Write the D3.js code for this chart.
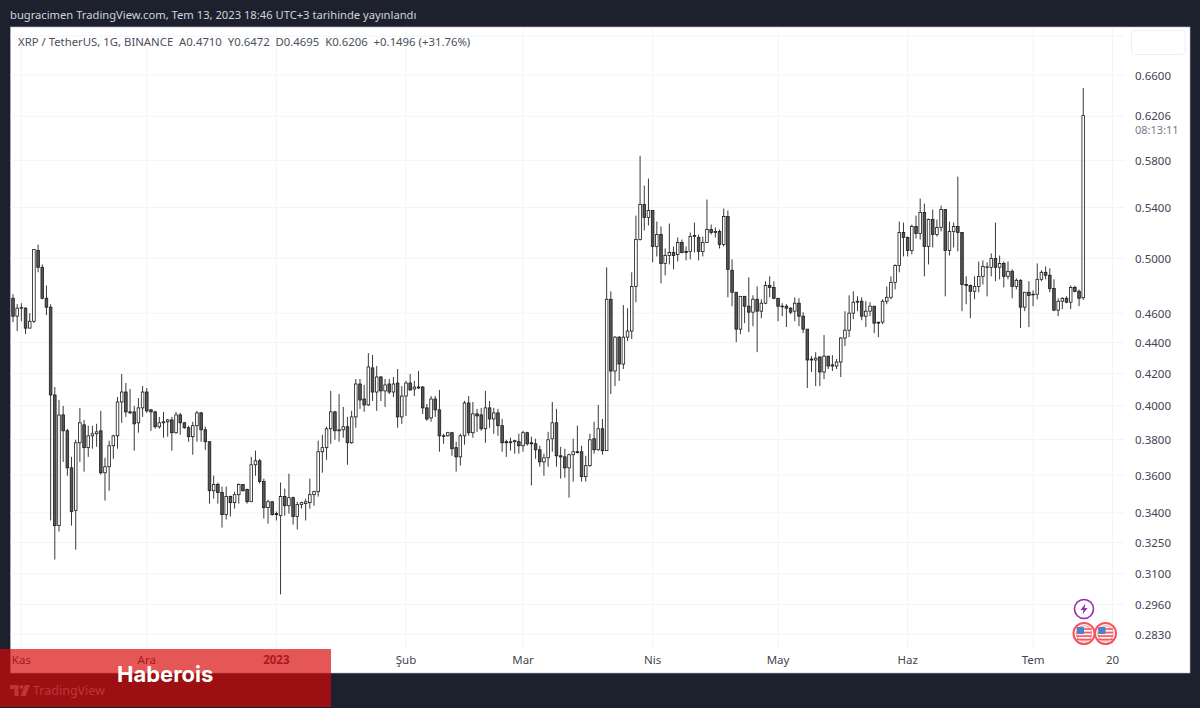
<!DOCTYPE html>
<html>
<head>
<meta charset="utf-8">
<script src="https://d3js.org/d3.v7.min.js"></script>
<style>
    html, body {margin: 0; padding: 0; background: #1d202d;}
    svg {display: block;}
    text {font-family: "Noto Sans", sans-serif; white-space: pre;}
</style>
</head>
<body>
<div id="chart"></div>
<script>
// XRP/USDT daily candles, first candle is 30 Oct 2022
const firstDay = "2022-10-30";
const opens = [
.4706,.4580,.4636,.4636,.4498,.4545,.5059,.4932,.4706,.4643,
.4065,.3335,.3944,.3850,.3640,.3412,.3781,.3885,.3753,.3821,
.3833,.3850,.3613,.3646,.3764,.3821,.4022,.4083,.3962,.3962,
.3897,.3986,.4083,.3974,.3962,.3874,.3897,.3903,.3914,.3839,
.3944,.3897,.3868,.3816,.3880,.3956,.3856,.3787,.3516,.3549,
.3506,.3391,.3485,.3453,.3495,.3549,.3522,.3458,.3657,.3679,
.3565,.3427,.3458,.3396,.3386,.3485,.3437,.3479,.3381,.3443,
.3448,.3453,.3495,.3511,.3730,.3753,.3862,.3962,.3850,.3856,
.3874,.3781,.3932,.4133,.4040,.4004,.4235,.4083,.4177,.4090,
.4133,.4083,.4139,.3932,.4058,.4139,.4102,.4114,.4114,.3986,
.3926,.4040,.3974,.3821,.3821,.3839,.3753,.3701,.3821,.4016,
.3839,.3950,.3944,.3862,.3986,.3920,.3956,.3880,.3787,.3781,
.3787,.3787,.3764,.3839,.3781,.3775,.3741,.3673,.3696,.3804,
.3897,.3707,.3701,.3640,.3713,.3730,.3730,.3592,.3652,.3804,
.3741,.3862,.3736,.4699,.4215,.4437,.4260,.4437,.4478,.4791,
.5144,.5424,.5318,.5375,.5090,.5183,.4961,.5021,.5044,.5029,
.5121,.5052,.5052,.5167,.5160,.5052,.5121,.5223,.5199,.5207,
.5106,.5326,.4910,.4749,.4491,.4720,.4650,.4608,.4699,.4615,
.4671,.4798,.4784,.4706,.4650,.4650,.4636,.4615,.4671,.4580,
.4491,.4292,.4286,.4305,.4209,.4311,.4254,.4247,.4273,.4431,
.4484,.4601,.4678,.4685,.4580,.4615,.4650,.4539,.4539,.4685,
.4713,.4821,.4946,.5199,.5160,.5059,.5247,.5191,.5359,.5090,
.5302,.5183,.5239,.5383,.5059,.5207,.5247,.5199,.4806,.4798,
.4756,.4791,.4865,.4932,.4932,.4999,.4932,.4961,.4865,.4902,
.4791,.4836,.4643,.4749,.4735,.4735,.4843,.4895,.4873,.4777,
.4622,.4685,.4706,.4678,.4784,.4756,.4710];
const highs = [
.4735,.4664,.4671,.4643,.4601,.5067,.5105,.4954,.4798,.4664,
.4114,.4034,.3998,.3862,.3701,.3798,.3986,.3914,.3880,.3880,
.3891,.3968,.3696,.3793,.3827,.4052,.4196,.4139,.4102,.3998,
.4046,.4120,.4108,.3980,.3968,.3932,.3962,.3920,.3932,.3962,
.3956,.3903,.3880,.3903,.3968,.3962,.3874,.3787,.3597,.3560,
.3538,.3538,.3490,.3511,.3554,.3549,.3527,.3701,.3736,.3690,
.3581,.3469,.3458,.3407,.3560,.3527,.3608,.3485,.3458,.3458,
.3474,.3581,.3516,.3793,.3827,.3874,.4090,.3968,.4071,.3992,
.3932,.3968,.4164,.4164,.4127,.4331,.4318,.4247,.4183,.4164,
.4164,.4177,.4228,.4120,.4152,.4196,.4152,.4215,.4120,.4010,
.4058,.4058,.4096,.3833,.3844,.3844,.3787,.3833,.4028,.4058,
.4022,.3980,.3986,.4090,.4028,.3986,.3980,.3920,.3798,.3810,
.3798,.3833,.3850,.3844,.3816,.3804,.3764,.3719,.3844,.4022,
.3980,.3758,.3747,.3719,.3804,.3880,.3764,.3707,.3833,.3903,
.4004,.3920,.4932,.4756,.4444,.4444,.4657,.4636,.4895,.5334,
.5840,.5582,.5641,.5375,.5286,.5247,.5075,.5270,.5090,.5160,
.5144,.5090,.5199,.5278,.5183,.5167,.5465,.5262,.5239,.5223,
.5391,.5375,.4991,.4749,.4720,.4720,.4858,.4727,.4791,.4699,
.4829,.4865,.4829,.4706,.4671,.4664,.4643,.4713,.4706,.4608,
.4491,.4311,.4337,.4311,.4451,.4311,.4318,.4292,.4437,.4615,
.4727,.4756,.4720,.4713,.4685,.4678,.4650,.4539,.4699,.4791,
.4865,.4954,.5286,.5278,.5167,.5262,.5334,.5473,.5432,.5310,
.5383,.5302,.5416,.5383,.5286,.5278,.5658,.5199,.4865,.4806,
.4865,.4976,.4984,.4969,.5037,.5278,.5021,.4976,.4976,.4917,
.4850,.4843,.4749,.4829,.4763,.4961,.4910,.4939,.4924,.4843,
.4706,.4713,.4720,.4798,.4798,.4770,.6472];
const lows = [
.4539,.4478,.4545,.4458,.4498,.4532,.4895,.4699,.4587,.3361,
.3168,.3305,.3673,.3597,.3335,.3216,.3673,.3619,.3701,.3747,
.3758,.3603,.3464,.3516,.3690,.3747,.3897,.3932,.3950,.3736,
.3839,.3932,.3956,.3850,.3862,.3862,.3810,.3816,.3736,.3833,
.3827,.3862,.3787,.3713,.3787,.3787,.3741,.3448,.3474,.3448,
.3325,.3366,.3381,.3422,.3448,.3511,.3448,.3458,.3597,.3554,
.3371,.3345,.3386,.3361,.3005,.3386,.3396,.3340,.3315,.3422,
.3361,.3422,.3437,.3485,.3613,.3685,.3775,.3798,.3787,.3810,
.3657,.3775,.3868,.3980,.3962,.3998,.4028,.3968,.4028,.3992,
.4071,.4052,.3868,.3891,.3938,.4090,.4058,.4102,.3950,.3908,
.3903,.3932,.3730,.3775,.3816,.3707,.3619,.3652,.3770,.3821,
.3810,.3844,.3850,.3781,.3868,.3833,.3821,.3730,.3701,.3736,
.3719,.3719,.3730,.3764,.3544,.3690,.3646,.3597,.3646,.3730,
.3646,.3581,.3586,.3479,.3565,.3719,.3565,.3565,.3646,.3719,
.3736,.3713,.3736,.4071,.4120,.4152,.4228,.4411,.4424,.4678,
.5136,.5215,.5255,.4969,.5014,.4814,.4873,.4954,.4917,.4976,
.5037,.4984,.4991,.5044,.4984,.5014,.5121,.5183,.5160,.5075,
.5090,.4713,.4650,.4404,.4457,.4532,.4471,.4511,.4337,.4566,
.4664,.4713,.4699,.4545,.4580,.4505,.4594,.4545,.4511,.4464,
.4108,.4209,.4120,.4120,.4164,.4228,.4215,.4228,.4177,.4377,
.4437,.4559,.4615,.4552,.4505,.4580,.4464,.4437,.4525,.4664,
.4699,.4770,.4895,.5014,.5014,.5029,.5152,.5144,.4865,.4954,
.5083,.5167,.5207,.4720,.5021,.5083,.5052,.4615,.4664,.4566,
.4699,.4749,.4806,.4720,.4865,.4829,.4843,.4784,.4843,.4706,
.4770,.4498,.4615,.4505,.4650,.4699,.4829,.4843,.4749,.4615,
.4580,.4629,.4671,.4629,.4749,.4650,.4695];
const closes = [
.4580,.4636,.4640,.4498,.4545,.5067,.4932,.4706,.4643,.4065,
.3335,.3943,.3850,.3640,.3407,.3781,.3897,.3753,.3821,.3833,
.3844,.3613,.3646,.3764,.3821,.4022,.4083,.3962,.3956,.3891,
.3986,.4083,.3968,.3962,.3874,.3897,.3903,.3914,.3839,.3944,
.3897,.3868,.3816,.3880,.3956,.3856,.3787,.3516,.3549,.3506,
.3391,.3485,.3453,.3495,.3549,.3516,.3458,.3657,.3679,.3565,
.3427,.3458,.3391,.3391,.3485,.3437,.3479,.3381,.3443,.3453,
.3458,.3495,.3511,.3730,.3753,.3862,.3962,.3850,.3856,.3874,
.3781,.3932,.4133,.4034,.4004,.4241,.4083,.4177,.4090,.4127,
.4083,.4133,.3932,.4058,.4139,.4096,.4114,.4108,.3986,.3920,
.4040,.3974,.3821,.3818,.3839,.3747,.3701,.3821,.4016,.3839,
.3950,.3938,.3862,.3986,.3920,.3956,.3880,.3781,.3781,.3787,
.3793,.3764,.3839,.3775,.3775,.3741,.3673,.3696,.3798,.3897,
.3707,.3701,.3640,.3713,.3730,.3725,.3592,.3652,.3798,.3741,
.3862,.3736,.4699,.4215,.4437,.4260,.4437,.4478,.4791,.5144,
.5424,.5318,.5375,.5090,.5183,.4961,.5021,.5044,.5021,.5121,
.5044,.5044,.5167,.5175,.5052,.5121,.5223,.5199,.5207,.5106,
.5326,.4917,.4749,.4491,.4720,.4650,.4608,.4699,.4615,.4671,
.4798,.4784,.4706,.4650,.4647,.4636,.4608,.4671,.4580,.4491,
.4286,.4286,.4298,.4209,.4311,.4247,.4247,.4273,.4431,.4484,
.4601,.4678,.4685,.4580,.4615,.4650,.4532,.4532,.4685,.4713,
.4821,.4946,.5199,.5160,.5059,.5247,.5191,.5359,.5090,.5302,
.5183,.5239,.5383,.5059,.5207,.5247,.5199,.4806,.4798,.4756,
.4791,.4865,.4939,.4935,.4999,.4932,.4961,.4865,.4902,.4791,
.4836,.4643,.4749,.4727,.4732,.4843,.4895,.4873,.4777,.4622,
.4685,.4706,.4678,.4784,.4756,.4706,.6206];

const priceGrid = [0.70, 0.66, 0.62, 0.58, 0.54, 0.50, 0.46, 0.44, 0.42, 0.40, 0.38, 0.36, 0.34, 0.325, 0.31, 0.296, 0.283];
const priceLabels = ["0.6600", "0.5800", "0.5400", "0.5000", "0.4600", "0.4400", "0.4200", "0.4000", "0.3800", "0.3600", "0.3400", "0.3250", "0.3100", "0.2960", "0.2830"];
const lastPrice = 0.6206;
const countdown = "08:13:11";
const dateTicks = ["2022-11-01", "2022-12-01", "2023-01-01", "2023-02-01", "2023-03-01", "2023-04-01", "2023-05-01", "2023-06-01", "2023-07-01", "2023-07-20"];
const dateLabels = ["Kas", "Ara", "2023", "Şub", "Mar", "Nis", "May", "Haz", "Tem", "20"];
const headerText = "bugracimen TradingView.com, Tem 13, 2023 18:46 UTC+3 tarihinde yayınlandı";
const legendText = "XRP / TetherUS, 1G, BINANCE  A0.4710  Y0.6472  D0.4695  K0.6206  +0.1496 (+31.76%)";

var width = 1200;
var height = 708;
var paneLeft = 10.5, paneRight = 1190, paneTop = 27, paneBottom = 673, plotBottom = 650;

var parseDay = d3.utcParse("%Y-%m-%d");
var start = parseDay(firstDay);
var candles = opens.map((o, i) => ({
    date: d3.utcDay.offset(start, i), open: o, high: highs[i], low: lows[i], close: closes[i]
}));

var x = d3.scaleUtc()
    .domain([start, parseDay("2023-07-20")])
    .range([13, 1112.5]);
var y = d3.scaleLog()
    .domain([0.283, 0.66])
    .range([634, 75]);

const svg = d3.select("#chart")
    .append("svg")
    .attr("width", width)
    .attr("height", height);

svg.append("rect") // chart pane
    .attr("x", paneLeft)
    .attr("y", paneTop)
    .attr("width", paneRight - paneLeft)
    .attr("height", paneBottom - paneTop)
    .attr("fill", "#ffffff")
    .attr("stroke", "#b8bbc6")
    .attr("stroke-width", 0.6);

svg.append("g") // horizontal grid
    .selectAll("line")
    .data(priceGrid)
    .join("line")
    .attr("x1", paneLeft)
    .attr("x2", 1125)
    .attr("y1", d => y(d))
    .attr("y2", d => y(d))
    .attr("stroke", "#f3f4f6");

svg.append("g") // vertical grid
    .selectAll("line")
    .data(dateTicks)
    .join("line")
    .attr("x1", d => x(parseDay(d)))
    .attr("x2", d => x(parseDay(d)))
    .attr("y1", paneTop)
    .attr("y2", plotBottom)
    .attr("stroke", "#f3f4f6");

svg.append("g") // wicks
    .selectAll("line")
    .data(candles)
    .join("line")
    .attr("x1", d => x(d.date))
    .attr("x2", d => x(d.date))
    .attr("y1", d => y(d.high))
    .attr("y2", d => y(d.low))
    .attr("stroke", "#222")
    .attr("stroke-width", 0.9);

svg.append("g") // bodies
    .selectAll("rect")
    .data(candles)
    .join("rect")
    .attr("x", d => x(d.date) - 1.3)
    .attr("width", 2.6)
    .attr("y", d => y(Math.max(d.open, d.close)))
    .attr("height", d => Math.max(0.6, Math.abs(y(d.open) - y(d.close))))
    .attr("fill", d => d.close >= d.open ? "#ffffff" : "#555555")
    .attr("stroke", "#1a1a1a")
    .attr("stroke-width", 0.8);

// price scale
svg.append("g")
    .selectAll("text")
    .data(priceLabels)
    .join("text")
    .attr("x", 1135)
    .attr("y", d => y(+d) + 0.5)
    .attr("dy", "0.35em")
    .attr("font-size", 11.5)
    .attr("fill", "#434651")
    .text(d => d);

svg.append("text")
    .attr("x", 1135)
    .attr("y", y(lastPrice) + 0.5)
    .attr("dy", "0.35em")
    .attr("font-size", 11.5)
    .attr("fill", "#434651")
    .text(lastPrice.toFixed(4));

svg.append("text")
    .attr("x", 1135)
    .attr("y", y(lastPrice) + 14.5)
    .attr("dy", "0.35em")
    .attr("font-size", 11)
    .attr("fill", "#787b86")
    .text(countdown);

svg.append("rect") // empty box top right
    .attr("x", 1131.5)
    .attr("y", 30.5)
    .attr("width", 53.5)
    .attr("height", 24)
    .attr("rx", 3)
    .attr("fill", "#ffffff")
    .attr("stroke", "#eeeff2");

// time scale
svg.append("g")
    .selectAll("text")
    .data(dateTicks)
    .join("text")
    .attr("x", d => x(parseDay(d)))
    .attr("y", 660)
    .attr("dy", "0.35em")
    .attr("text-anchor", "middle")
    .attr("font-size", 11.5)
    .attr("font-weight", (d, i) => dateLabels[i] == "2023" ? 700 : 400)
    .attr("fill", "#434651")
    .text((d, i) => dateLabels[i]);

// header and legend
svg.append("text")
    .attr("x", 10)
    .attr("y", 15)
    .attr("dy", "0.35em")
    .attr("font-size", 11.2)
    .attr("fill", "#d1d4dc")
    .text(headerText);

svg.append("text")
    .attr("x", 18)
    .attr("y", 42)
    .attr("dy", "0.35em")
    .attr("font-size", 11.35)
    .attr("fill", "#4b4f5b")
    .text(legendText);

// event icons
var bolt = svg.append("g").attr("transform", "translate(1084,609)");
bolt.append("circle").attr("r", 9.5).attr("fill", "#fff").attr("stroke", "#9c27b0").attr("stroke-width", 1.6);
bolt.append("path").attr("d", "M1.5,-5.5 L-3.5,1 L-0.5,1 L-1.5,5.5 L3.5,-1 L0.5,-1 Z").attr("fill", "#9c27b0");

[1105.5, 1084].forEach(cx => {
    var flag = svg.append("g").attr("transform", "translate(" + cx + ",633.5)");
    flag.append("circle").attr("r", 10.5).attr("fill", "#fff").attr("stroke", "#f7525f").attr("stroke-width", 2);
    flag.append("circle").attr("r", 7.8).attr("fill", "#f7f7f7").attr("stroke", "#f7525f").attr("stroke-width", 0.6);
    [-4.5, -1, 2.5, 6].forEach(dy => {
        flag.append("rect").attr("x", -7.5).attr("y", dy - 0.8).attr("width", 15).attr("height", 1.7).attr("fill", "#f25c64");
    });
    flag.append("rect").attr("x", -7).attr("y", -6.5).attr("width", 7).attr("height", 7).attr("fill", "#4f82c9");
});

// tradingview watermark, sits under the red banner
var logo = svg.append("g").attr("transform", "translate(10,684)").attr("fill", "#8d909c");
logo.append("path").attr("d", "M0,1 H8.5 V12 H4.5 V5 H0 Z");
logo.append("circle").attr("cx", 11.5).attr("cy", 3).attr("r", 2);
logo.append("path").attr("d", "M15,1 H20 L15.5,12 H10.5 Z");
svg.append("text")
    .attr("x", 33)
    .attr("y", 691)
    .attr("dy", "0.35em")
    .attr("font-size", 12.5)
    .attr("fill", "#8d909c")
    .text("TradingView");

// red banner over the bottom left corner
svg.append("rect")
    .attr("x", 0)
    .attr("y", 649)
    .attr("width", 331)
    .attr("height", 58)
    .attr("fill", "rgb(216,7,7)")
    .attr("fill-opacity", 0.68);

svg.append("text")
    .attr("x", 117)
    .attr("y", 682)
    .style("font-family", "Inter")
    .attr("font-size", 22)
    .attr("font-weight", 700)
    .attr("fill", "#ffffff")
    .text("Haberois");
</script>
</body>
</html>
